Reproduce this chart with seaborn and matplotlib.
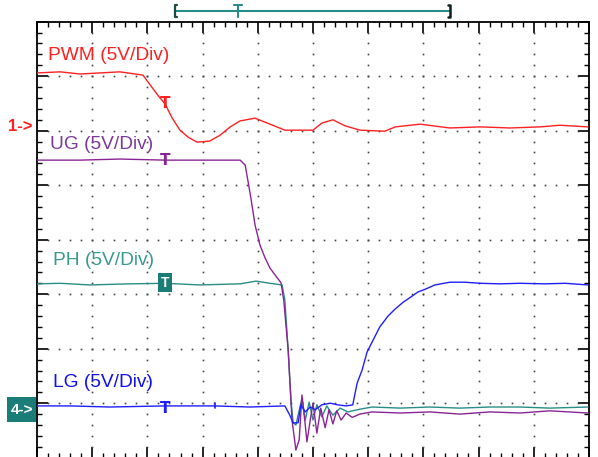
import numpy as np
import pandas as pd
import matplotlib
matplotlib.use("Agg")
import matplotlib.pyplot as plt
import seaborn as sns
from matplotlib.patches import Rectangle

sns.set_style("white")
plt.rcParams['font.family'] = ['Liberation Sans', 'DejaVu Sans']

# ---- data (time in divisions, screen position in divisions, 5V/div) ----
pwm_t = [0, 0.42, 0.78, 1.14, 1.50, 1.92, 2.05, 2.19, 2.32, 2.45, 2.59, 2.74, 2.90, 3.13, 3.32,
         3.50, 3.68, 3.95, 4.22, 4.49, 4.76, 5.00, 5.16, 5.36, 5.58, 5.85, 6.30, 6.49, 6.94,
         7.48, 8.03, 8.57, 9.11, 9.47, 9.98]
pwm_v = [7.06, 7.08, 7.04, 7.06, 7.08, 7.02, 6.84, 6.65, 6.49, 6.23, 6.01, 5.88, 5.79, 5.81, 5.92,
         6.07, 6.18, 6.23, 6.12, 6.01, 6.01, 6.01, 6.14, 6.20, 6.09, 6.01, 5.99, 6.07, 6.12,
         6.05, 6.07, 6.05, 6.07, 6.10, 6.07]

ug_t = [0, 0.78, 1.50, 2.32, 2.95, 3.68, 3.77, 3.82, 3.88, 3.95, 4.04, 4.13, 4.22, 4.33, 4.42,
        4.47, 4.55, 4.62, 4.69, 4.75, 4.80, 4.86, 4.89, 4.95, 5.00, 5.07, 5.14, 5.22, 5.29, 5.36,
        5.43, 5.51, 5.60, 5.71, 5.85, 6.07, 6.58, 7.12, 7.66, 8.21, 8.75, 9.29, 9.98]
ug_v = [5.46, 5.46, 5.48, 5.46, 5.46, 5.46, 5.37, 5.09, 4.73, 4.27, 3.90, 3.67, 3.48, 3.33, 3.21,
        2.89, 1.98, 0.69, 0.14, 0.33, 1.15, 0.60, 0.29, 0.69, 1.00, 0.45, 0.91, 0.55, 0.88, 0.62,
        0.86, 0.69, 0.82, 0.74, 0.80, 0.84, 0.82, 0.84, 0.80, 0.84, 0.82, 0.86, 0.82]

ph_t = [0, 0.42, 0.96, 1.68, 2.32, 2.95, 3.68, 3.97, 4.22, 4.44, 4.49, 4.55, 4.60, 4.64, 4.69,
        4.75, 4.80, 4.86, 4.93, 5.00, 5.07, 5.16, 5.25, 5.36, 5.49, 5.63, 5.85, 6.07, 6.58,
        7.12, 7.66, 8.21, 8.75, 9.29, 9.98]
ph_v = [3.19, 3.20, 3.17, 3.19, 3.20, 3.17, 3.19, 3.24, 3.20, 3.17, 2.89, 1.98, 1.06, 0.64, 0.60,
        0.87, 1.09, 0.69, 1.02, 0.69, 0.97, 0.75, 0.95, 0.78, 0.91, 0.84, 0.89, 0.93, 0.91,
        0.93, 0.91, 0.93, 0.93, 0.91, 0.93]

lg_t = [0, 0.60, 1.32, 2.32, 3.22, 3.86, 4.49, 4.58, 4.64, 4.73, 4.78, 4.86, 4.95, 5.04, 5.16,
        5.31, 5.45, 5.60, 5.72, 5.80, 5.89, 5.98, 6.09, 6.21, 6.36, 6.49, 6.63, 6.76, 6.90,
        7.03, 7.21, 7.48, 7.75, 8.03, 8.39, 8.75, 9.20, 9.57, 9.98]
lg_v = [0.95, 0.95, 0.93, 0.95, 0.95, 0.93, 0.95, 0.78, 0.64, 0.64, 0.97, 0.84, 0.93, 0.88, 0.97,
        1.00, 0.97, 0.95, 0.97, 1.37, 1.61, 1.94, 2.16, 2.40, 2.60, 2.73, 2.85, 2.94, 3.04,
        3.09, 3.17, 3.22, 3.22, 3.20, 3.19, 3.20, 3.19, 3.20, 3.17]

labels = ["PWM (5V/Div)", "UG (5V/Div)", "PH (5V/Div)", "LG (5V/Div)"]

c_red = '#ff2020'
c_pur = '#8a2496'
c_teal = '#2a8c86'
c_blue = '#1e1eff'
c_box = '#1a7d78'

W, H = 598, 457
fig = plt.figure(figsize=(W / 100, H / 100), dpi=100)
fig.patch.set_facecolor('white')
ax = fig.add_axes([37 / W, (457 - 457.7) / H, 552 / W, 436 / H])
ax.set_xlim(0, 10)
ax.set_ylim(0, 8)

# grid dots
for i in range(1, 10):
    yy = np.arange(0.2, 7.95, 0.2)
    ax.plot(np.full_like(yy, i), yy, ls='none', marker='s', ms=1.2, color='#444444', mew=0, zorder=1)
for j in range(1, 8):
    xx = np.arange(0.2, 9.95, 0.2)
    ax.plot(xx, np.full_like(xx, j), ls='none', marker='s', ms=1.2, color='#444444', mew=0, zorder=1)

# traces
traces = [(ph_t, ph_v, c_teal), (ug_t, ug_v, c_pur), (lg_t, lg_v, c_blue), (pwm_t, pwm_v, c_red)]
for t, v, c in traces:
    df = pd.DataFrame({'t': t, 'v': v})
    sns.lineplot(data=df, x='t', y='v', ax=ax, color=c, lw=1.0, estimator=None, sort=False, zorder=3)

ax.set_xlabel('')
ax.set_ylabel('')
ax.set_xticks(np.arange(0, 11, 1))
ax.set_xticks(np.arange(0, 10.01, 0.2), minor=True)
ax.set_yticks(np.arange(0, 9, 1))
ax.set_yticks(np.arange(0, 8.01, 0.2), minor=True)
ax.tick_params(which='both', direction='in', top=True, right=True, bottom=True, left=True,
               labelbottom=False, labelleft=False, color='black')
ax.tick_params(which='major', length=8, width=1.2)
ax.tick_params(which='minor', length=3.5, width=1.0)
for s in ax.spines.values():
    s.set_color('black')
    s.set_linewidth(1.3)

# channel labels
fs = 13.8
ax.text(0.20, 7.30, labels[0], color=c_red, fontsize=fs, va='baseline', ha='left', zorder=5)
ax.text(0.235, 5.66, labels[1], color='#7b3a9a', fontsize=fs, va='baseline', ha='left', zorder=5)
ax.text(0.29, 3.54, labels[2], color='#3a9a92', fontsize=fs, va='baseline', ha='left', zorder=5)
ax.text(0.29, 1.30, labels[3], color='#1010ee', fontsize=fs, va='baseline', ha='left', zorder=5)

# trigger markers
tkw = dict(fontsize=11, fontweight='bold', ha='center', va='center', zorder=6, family='DejaVu Sans')
ax.text(2.32, 6.49, 'T', color=c_red, **tkw)
ax.text(2.32, 5.46, 'T', color=c_pur, **tkw)
ax.text(2.32, 0.91, 'T', color=c_blue, **tkw)
ax.text(2.32, 3.21, 'T', color='white', fontsize=10, fontweight='bold', ha='center', va='center', zorder=6,
        bbox=dict(boxstyle='square,pad=0.18', fc=c_box, ec='none'))
ax.plot([3.22, 3.22], [0.91, 1.0], color=c_blue, lw=1.2, zorder=6)

# channel ground markers
ax.text(-0.31, 6.07, '1->', color=c_red, fontsize=12, fontweight='bold', ha='center', va='center',
        clip_on=False)
ax.add_patch(Rectangle((-0.543, 0.655), 0.525, 0.459, fc=c_box, ec='none', clip_on=False, zorder=5))
ax.text(-0.28, 0.884, '4->', color='white', fontsize=11, fontweight='bold', ha='center', va='center',
        clip_on=False, zorder=6)

# top bracket
yb, yt, ym = 8.086, 8.306, 8.196
ax.plot([2.5, 7.48], [ym, ym], color=c_teal, lw=1.5, clip_on=False)
ax.plot([2.53, 2.5, 2.5, 2.53], [yt, yt, yb, yb], color='#1d4a46', lw=1.6, clip_on=False)
ax.plot([7.45, 7.48, 7.48, 7.45], [yt, yt, yb, yb], color='#102020', lw=1.8, clip_on=False)
ax.plot([3.64, 3.64], [yb, yt], color=c_teal, lw=1.5, clip_on=False)
ax.plot([3.57, 3.71], [yt, yt], color=c_teal, lw=1.5, clip_on=False)

fig.savefig('out.png', dpi=100)
